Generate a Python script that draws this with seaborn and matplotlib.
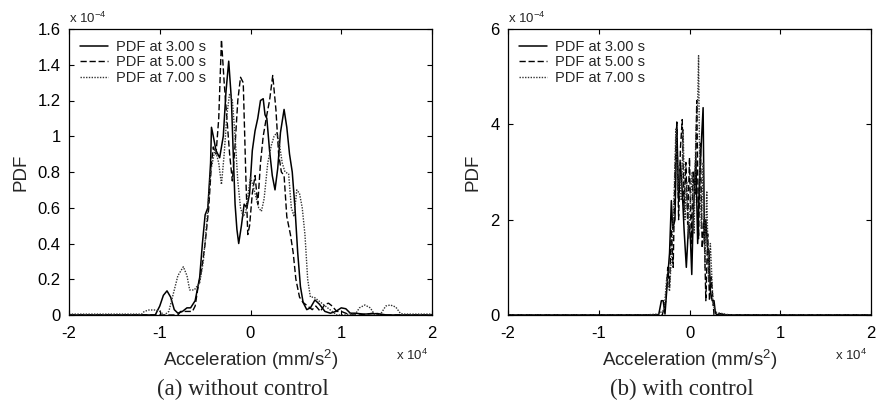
import numpy as np
import pandas as pd
import matplotlib
matplotlib.use("Agg")
import matplotlib.pyplot as plt
import seaborn as sns

# ---------------- data (x in 1e4 mm/s^2, PDF in 1e-4) ----------------
a_solid_x = [-2.0, -1.05, -1.0, -0.96, -0.92, -0.88, -0.84, -0.8, -0.75, -0.7, -0.66, -0.61,
             -0.56, -0.53, -0.5, -0.47, -0.44, -0.43, -0.41, -0.38, -0.34, -0.3, -0.27, -0.24,
             -0.21, -0.19, -0.17, -0.15, -0.13, -0.1, -0.07, -0.04, -0.01, 0.02, 0.05, 0.08,
             0.11, 0.14, 0.16, 0.18, 0.21, 0.24, 0.27, 0.3, 0.33, 0.37, 0.4, 0.43, 0.46, 0.49,
             0.52, 0.55, 0.58, 0.62, 0.66, 0.71, 0.76, 0.82, 0.88, 0.94, 1.0, 1.05, 1.1, 1.15,
             1.25, 1.4, 1.5, 2.0]
a_solid_y = [0.0, 0.0, 0.05, 0.11, 0.135, 0.1, 0.03, 0.01, 0.02, 0.04, 0.04, 0.08,
             0.21, 0.4, 0.56, 0.6, 0.85, 1.05, 1.0, 0.92, 0.88, 1.0, 1.25, 1.42,
             1.2, 0.9, 0.62, 0.48, 0.4, 0.5, 0.62, 0.6, 0.68, 0.92, 1.03, 1.1,
             1.2, 1.21, 1.12, 1.1, 0.92, 0.78, 0.7, 0.82, 1.02, 1.15, 1.05, 0.9, 0.8, 0.6,
             0.35, 0.16, 0.07, 0.03, 0.04, 0.084, 0.06, 0.02, 0.01, 0.02, 0.04, 0.035, 0.01, 0.01,
             0.005, 0.008, 0.0, 0.0]

a_dash_x = [-2.0, -0.8, -0.77, -0.68, -0.64, -0.61, -0.58, -0.54, -0.5, -0.46, -0.43, -0.41,
            -0.38, -0.35, -0.32, -0.29, -0.26, -0.23, -0.2, -0.17, -0.14, -0.11, -0.08, -0.05,
            -0.03, -0.01, 0.02, 0.05, 0.08, 0.11, 0.14, 0.18, 0.21, 0.245, 0.28, 0.31, 0.34,
            0.37, 0.4, 0.44, 0.47, 0.5, 0.54, 0.58, 0.63, 0.68, 0.72, 0.77, 0.82, 0.86, 0.9,
            0.95, 1.0, 1.05, 1.1, 1.2, 1.35, 1.45, 2.0]
a_dash_y = [0.0, 0.0, 0.02, 0.02, 0.02, 0.05, 0.15, 0.25, 0.4, 0.6, 0.85, 0.94,
            0.9, 1.1, 1.54, 1.3, 1.1, 0.9, 0.75, 0.95, 1.2, 1.33, 1.3, 0.75,
            0.45, 0.5, 0.68, 0.78, 0.62, 0.85, 1.0, 1.12, 1.2, 1.34, 1.15, 0.9, 0.8,
            0.78, 0.55, 0.45, 0.35, 0.2, 0.1, 0.07, 0.05, 0.03, 0.05, 0.02, 0.06, 0.066, 0.05,
            0.02, 0.02, 0.01, 0.0, 0.0, 0.01, 0.0, 0.0]

a_dot_x = [-2.0, -1.2, -1.17, -1.12, -1.05, -1.0, -0.95, -0.9, -0.85, -0.8, -0.74, -0.7,
           -0.67, -0.62, -0.56, -0.52, -0.48, -0.44, -0.39, -0.35, -0.32, -0.29, -0.26, -0.23,
           -0.2, -0.17, -0.14, -0.11, -0.08, -0.05, -0.02, 0.0, 0.03, 0.06, 0.09, 0.12, 0.15,
           0.19, 0.23, 0.26, 0.29, 0.32, 0.35, 0.38, 0.42, 0.45, 0.48, 0.51, 0.54, 0.57, 0.6,
           0.63, 0.66, 0.7, 0.75, 0.8, 0.85, 0.9, 0.95, 1.0, 1.05, 1.1, 1.15, 1.2, 1.26, 1.32,
           1.37, 1.4, 1.44, 1.49, 1.54, 1.6, 1.65, 1.68, 2.0]
a_dot_y = [0.005, 0.005, 0.02, 0.028, 0.028, 0.02, 0.0, 0.02, 0.12, 0.22, 0.27, 0.22,
           0.14, 0.14, 0.18, 0.3, 0.53, 0.8, 0.93, 0.85, 0.73, 0.9, 1.12, 1.24,
           1.2, 1.0, 0.75, 0.6, 0.55, 0.58, 0.7, 0.77, 0.72, 0.66, 0.6, 0.58, 0.65,
           0.85, 0.95, 1.0, 1.02, 0.95, 0.85, 0.8, 0.79, 0.6, 0.55, 0.7, 0.68, 0.6, 0.45,
           0.2, 0.1, 0.1, 0.08, 0.06, 0.04, 0.02, 0.0, 0.0, 0.0, 0.01, 0.0, 0.04, 0.056, 0.04,
           0.0, 0.0, 0.01, 0.05, 0.056, 0.045, 0.01, 0.005, 0.005]

b_solid_x = [-2.0, -0.34, -0.31, -0.29, -0.27, -0.24, -0.22, -0.2, -0.185, -0.16, -0.14,
             -0.12, -0.1, -0.08, -0.06, -0.035, -0.01, 0.0, 0.01, 0.025, 0.04, 0.07, 0.09,
             0.11, 0.13, 0.15, 0.165, 0.18, 0.2, 0.215, 0.23, 0.25, 0.27, 0.285, 0.3, 0.33,
             0.36, 0.4, 2.0]
b_solid_y = [0.0, 0.0, 0.3, 0.3, 0.02, 0.8, 1.3, 2.4, 1.8, 2.0, 4.0,
             2.4, 3.2, 2.6, 1.8, 1.0, 1.9, 1.8, 1.6, 0.85, 2.0, 3.3, 1.5,
             2.8, 3.6, 4.35, 1.5, 2.0, 1.4, 1.35, 0.5, 0.3, 0.3, 0.05, 0.0, 0.03,
             0.02, 0.0, 0.0]

b_dash_x = [-2.0, -0.3, -0.26, -0.24, -0.22, -0.2, -0.18, -0.16, -0.14, -0.12, -0.1, -0.08,
            -0.06, -0.04, -0.02, 0.0, 0.02, 0.04, 0.06, 0.08, 0.1, 0.12, 0.14, 0.16, 0.18,
            0.2, 0.22, 0.24, 0.27, 2.0]
b_dash_y = [0.0, 0.0, 0.3, 1.0, 0.6, 1.8, 1.0, 3.0, 4.05, 2.0, 3.5, 4.1,
            2.2, 3.2, 1.9, 3.3, 1.5, 3.0, 2.5, 4.5, 1.6, 3.6, 1.4, 2.0, 0.3,
            1.7, 0.3, 0.8, 0.0, 0.0]

b_dot_x = [-2.0, -0.5, -0.35, -0.28, -0.25, -0.22, -0.2, -0.17, -0.15, -0.13, -0.11, -0.09,
           -0.07, -0.05, -0.03, -0.01, 0.01, 0.03, 0.05, 0.07, 0.09, 0.1, 0.11, 0.13, 0.15,
           0.17, 0.19, 0.21, 0.23, 0.26, 0.3, 0.45, 2.0]
b_dot_y = [0.0, 0.0, 0.02, 0.1, 0.8, 0.5, 1.2, 2.5, 3.9, 2.6, 3.0, 2.4,
           3.9, 2.0, 2.8, 1.6, 2.4, 3.0, 1.7, 3.8, 4.5, 5.44, 3.5, 1.8, 3.2,
           1.0, 2.6, 0.7, 1.5, 0.2, 0.05, 0.0, 0.0]

series_labels = ["PDF at 3.00 s", "PDF at 5.00 s", "PDF at 7.00 s"]
x_ticks = [-2, -1, 0, 1, 2]
x_ticklabels = ["-2", "-1", "0", "1", "2"]
a_yticks = [0, 0.2, 0.4, 0.6, 0.8, 1.0, 1.2, 1.4, 1.6]
a_yticklabels = ["0", "0.2", "0.4", "0.6", "0.8", "1", "1.2", "1.4", "1.6"]
b_yticks = [0, 2, 4, 6]
b_yticklabels = ["0", "2", "4", "6"]
xlabel = "Acceleration (mm/s$^2$)"
ylabel = "PDF"
captions = ["(a) without control", "(b) with control"]

# ---------------- style ----------------
sns.set_style("ticks")
plt.rcParams["font.family"] = ["Liberation Sans", "DejaVu Sans"]
plt.rcParams["mathtext.default"] = "regular"
plt.rcParams["axes.linewidth"] = 0.9

fig = plt.figure(figsize=(8.82, 4.05), dpi=100)
axA = fig.add_axes([69 / 882, 90 / 405, 363 / 882, 286 / 405])
axB = fig.add_axes([508 / 882, 90 / 405, 363 / 882, 286 / 405])

styles = ["-", (0, (4.5, 2)), (0, (1, 1))]
lws = [1.1, 1.0, 1.0]
colors = ["black", "black", "#333333"]

panels = [
    (axA, [(a_solid_x, a_solid_y), (a_dash_x, a_dash_y), (a_dot_x, a_dot_y)],
     (0, 1.6), a_yticks, a_yticklabels, captions[0]),
    (axB, [(b_solid_x, b_solid_y), (b_dash_x, b_dash_y), (b_dot_x, b_dot_y)],
     (0, 6), b_yticks, b_yticklabels, captions[1]),
]

for ax, curves, ylim, yt, ytl, cap in panels:
    for (xs, ys), lab, ls, lw, c in zip(curves, series_labels, styles, lws, colors):
        df = pd.DataFrame({"x": xs, "y": ys})
        sns.lineplot(data=df, x="x", y="y", ax=ax, color=c, linewidth=lw,
                     linestyle=ls, label=lab, sort=False, estimator=None)
    ax.set_xlim(-2, 2)
    ax.set_ylim(*ylim)
    ax.set_xticks(x_ticks)
    ax.set_xticklabels(x_ticklabels)
    ax.set_yticks(yt)
    ax.set_yticklabels(ytl)
    ax.tick_params(direction="in", length=3.5, width=0.8, top=True, right=True,
                   labelsize=12, colors="black")
    ax.tick_params(axis="x", pad=8)
    ax.tick_params(axis="y", pad=6)
    for sp in ax.spines.values():
        sp.set_visible(True)
        sp.set_color("black")
    ax.set_xlabel(xlabel, fontsize=13.5, labelpad=5)
    ax.set_ylabel(ylabel, fontsize=13.5, labelpad=6)
    ax.text(0.0, 1.012, r"x 10$^{-4}$", transform=ax.transAxes, fontsize=9.5,
            ha="left", va="bottom")
    ax.text(0.99, -0.115, r"x 10$^{4}$", transform=ax.transAxes, fontsize=9.5,
            ha="right", va="top")
    ax.text(0.48, -0.225, cap, transform=ax.transAxes, fontsize=16.5,
            family="Liberation Serif", ha="center", va="top")
    leg = ax.legend(loc="upper left", frameon=False, fontsize=10.5, handlelength=1.9,
                    handletextpad=0.55, labelspacing=0.1, borderaxespad=0.35)

fig.savefig("out.png", dpi=100)
